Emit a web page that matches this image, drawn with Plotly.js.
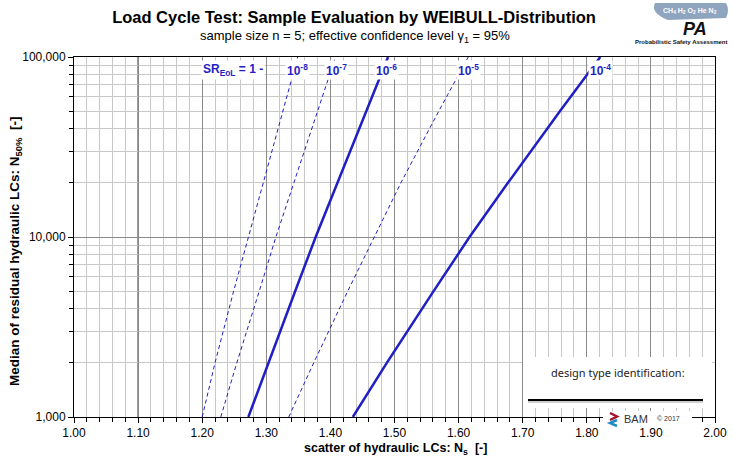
<!DOCTYPE html>
<html>
<head>
<meta charset="utf-8">
<script src="https://cdn.plot.ly/plotly-3.0.1.min.js"></script>
<style>
  html, body { margin: 0; padding: 0; background: #fff; }
  #chart { width: 733px; height: 461px; }
</style>
</head>
<body>
<div id="chart"></div>
<script>
// median of residual LCs (y) and the scatter Ns read for each curve (x)
const nResidual = [1000, 2000, 5000, 10000, 20000, 50000, 100000];
const ns_1e8 = [1.200, 1.220, 1.249, 1.272, 1.295, 1.326, 1.349];
const ns_1e7 = [1.229, 1.254, 1.289, 1.315, 1.343, 1.380, 1.408];
const ns_1e6 = [1.272, 1.303, 1.345, 1.377, 1.411, 1.456, 1.490];
const ns_1e5 = [1.335, 1.374, 1.427, 1.468, 1.510, 1.569, 1.615];
const ns_1e4 = [1.435, 1.488, 1.561, 1.617, 1.677, 1.758, 1.821];

const srNames = ['10<sup>-8</sup>', '10<sup>-7</sup>', '10<sup>-6</sup>', '10<sup>-5</sup>', '10<sup>-4</sup>'];
const labelNs = [1.349, 1.410, 1.488, 1.616, 1.821];

const xTicks = [1.0, 1.1, 1.2, 1.3, 1.4, 1.5, 1.6, 1.7, 1.8, 1.9, 2.0];
const yTicks = [1000, 10000, 100000];
const yTickText = ['1,000', '10,000', '100,000'];
const yMinor = [2000, 3000, 4000, 5000, 6000, 7000, 8000, 9000,
                20000, 30000, 40000, 50000, 60000, 70000, 80000, 90000];

const BLUE = '#1f1fc4';
const FONT = 'Liberation Sans, Arial, sans-serif';

const curves = [ns_1e8, ns_1e7, ns_1e6, ns_1e5, ns_1e4];
const solid = [false, false, true, false, true];

const traces = curves.map((xs, i) => ({
    type: 'scatter',
    mode: 'lines',
    x: xs,
    y: nResidual,
    name: srNames[i],
    line: solid[i]
        ? { color: BLUE, width: 2.5 }
        : { color: BLUE, width: 1, dash: '4px,3px' },
    hoverinfo: 'x+y'
}));

// pixel -> paper helpers for the decorations (plot area 74..715 x 57..417)
const px = v => (v - 74) / 641;
const py = v => (417 - v) / 360;

function note(text, x, y, font, extra) {
    return Object.assign({
        text: text, x: x, xref: 'paper', y: y, yref: 'paper',
        xanchor: 'center', yanchor: 'middle', showarrow: false, font: font
    }, extra || {});
}

const labelFont = { family: FONT, size: 12, color: BLUE, weight: 'bold' };

const annotations = srNames.map((t, i) =>
    note(t, labelNs[i], py(70), labelFont, { xref: 'x', bgcolor: '#fff', borderpad: 1 }));

annotations.push(
    note('SR<sub>EoL</sub> = 1 -', px(233), py(70), labelFont, { bgcolor: '#fff', borderpad: 1 }),
    note('sample size n = 5; effective confidence level \u03b3<sub>1</sub> = 95%', px(355), py(37),
         { family: FONT, size: 13, color: '#000' }),
    note('Median of residual hydraulic LCs: N<sub>50%</sub>\u00a0\u00a0[-]', px(15), py(252),
         { family: FONT, size: 13.5, color: '#000', weight: 'bold' }, { textangle: -90 }),
    note('scatter of hydraulic LCs: N<sub>s</sub>\u00a0\u00a0[-]', px(396), py(449),
         { family: FONT, size: 12.5, color: '#000', weight: 'bold' }),
    note('design type identification:', px(618), py(372),
         { family: 'Noto Sans, sans-serif', size: 11, color: '#222' }),
    note('BAM', px(622), py(419), { family: FONT, size: 11, color: '#333' }, { xanchor: 'left' }),
    note('\u00a9 2017', px(655), py(418), { family: FONT, size: 7, color: '#333' }, { xanchor: 'left' }),
    // PA logo, top right
    note('<i><b>PA</b></i>', px(695), py(29), { family: FONT, size: 18, color: '#111' }),
    note('CH<sub>4</sub> H<sub>2</sub> O<sub>2</sub> He N<sub>2</sub>', px(690), py(11),
         { family: FONT, size: 7, color: '#fff', weight: 'bold' }),
    note('Probabilistic Safety Assessment', px(681), py(42),
         { family: FONT, size: 6, color: '#111', weight: 'bold' })
);

const shapes = [
    // darker reference line at 1.10
    { type: 'line', xref: 'x', yref: 'paper', x0: 1.1, x1: 1.1, y0: 0, y1: 1,
      line: { color: '#000', width: 1 }, layer: 'between' },
    // design type identification panel
    { type: 'rect', xref: 'paper', yref: 'paper', x0: px(523), x1: px(712), y0: py(408), y1: py(357),
      fillcolor: '#fff', line: { width: 0 }, layer: 'above' },
    { type: 'line', xref: 'paper', yref: 'paper', x0: px(528), x1: px(703), y0: py(402), y1: py(402),
      line: { color: '#cfcfcf', width: 2 }, layer: 'above' },
    { type: 'line', xref: 'paper', yref: 'paper', x0: px(528), x1: px(703), y0: py(400), y1: py(400),
      line: { color: '#000', width: 2 }, layer: 'above' },
    // BAM logo patch over the axis
    { type: 'rect', xref: 'paper', yref: 'paper', x0: px(603), x1: px(692), y0: py(426), y1: py(411),
      fillcolor: '#fff', line: { width: 0 }, layer: 'above' },
    { type: 'path', xref: 'paper', yref: 'paper',
      path: `M ${px(610)} ${py(413)} L ${px(617)} ${py(416.5)} L ${px(610)} ${py(420)}`,
      line: { color: '#a3162e', width: 2.5 }, layer: 'above' },
    { type: 'path', xref: 'paper', yref: 'paper',
      path: `M ${px(617)} ${py(420)} L ${px(610)} ${py(423)} L ${px(617)} ${py(426)}`,
      line: { color: '#1e8ac8', width: 2.5 }, layer: 'above' },
    // logo banner
    { type: 'path', xref: 'paper', yref: 'paper',
      path: `M ${px(655)} ${py(3)} L ${px(726)} ${py(3)} Q ${px(730)} ${py(10)} ${px(726)} ${py(18)} ` +
            `L ${px(668)} ${py(20)} Q ${px(650)} ${py(13)} ${px(655)} ${py(3)} Z`,
      fillcolor: '#8fa4bf', line: { width: 0 }, layer: 'above' }
];

const layout = {
    width: 733,
    height: 461,
    paper_bgcolor: '#fff',
    plot_bgcolor: '#fff',
    margin: { l: 74, r: 18, t: 57, b: 44 },
    showlegend: false,
    title: {
        text: 'Load Cycle Test: Sample Evaluation by WEIBULL-Distribution',
        xref: 'paper', x: px(354), xanchor: 'center',
        yref: 'container', y: 1 - 17 / 461, yanchor: 'middle',
        font: { family: FONT, size: 16.5, color: '#000', weight: 'bold' }
    },
    xaxis: {
        range: [1, 2],
        tickvals: xTicks,
        tickformat: '.2f',
        ticks: 'outside', ticklen: 5, tickcolor: '#000',
        tickfont: { family: FONT, size: 12, color: '#000' },
        gridcolor: '#8a8a8a', gridwidth: 1,
        minor: { dtick: 0.02, showgrid: true, gridcolor: '#c8c8c8', gridwidth: 1,
                 ticks: 'outside', ticklen: 4, tickcolor: '#000' },
        showline: true, linecolor: '#000', linewidth: 1, mirror: true,
        zeroline: false, fixedrange: true
    },
    yaxis: {
        type: 'log',
        range: [3, 5],
        tickvals: yTicks,
        ticktext: yTickText,
        ticks: 'outside', ticklen: 5, tickcolor: '#000',
        tickfont: { family: FONT, size: 12, color: '#000' },
        gridcolor: '#8a8a8a', gridwidth: 1,
        minor: { tickvals: yMinor, showgrid: true, gridcolor: '#c8c8c8', gridwidth: 1,
                 ticks: 'outside', ticklen: 4, tickcolor: '#000' },
        showline: true, linecolor: '#000', linewidth: 1, mirror: true,
        zeroline: false, fixedrange: true
    },
    annotations: annotations,
    shapes: shapes
};

Plotly.newPlot('chart', traces, layout, { displayModeBar: false, staticPlot: true });
</script>
</body>
</html>
